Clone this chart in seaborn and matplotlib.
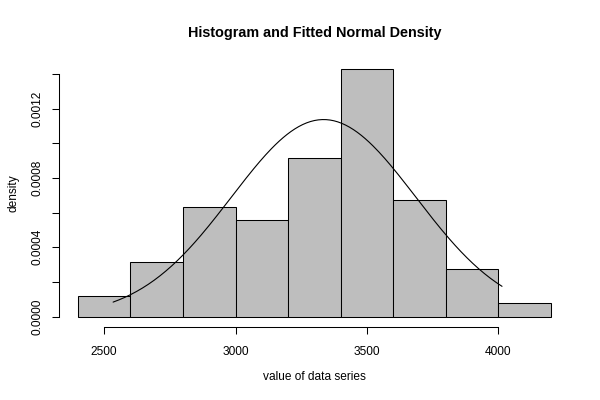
import numpy as np
import pandas as pd
import matplotlib
matplotlib.use("Agg")
import matplotlib.pyplot as plt
import seaborn as sns

# --- Data ---
bin_edges = [2400, 2600, 2800, 3000, 3200, 3400, 3600, 3800, 4000, 4200]
bin_counts = [3, 8, 16, 14, 23, 36, 17, 7, 2]
fit_mean = 3335.0
fit_sd = 351.0
data_min = 2534.0
data_max = 4014.0
x_ticks = [2500, 3000, 3500, 4000]
y_ticks = [0.0, 0.0002, 0.0004, 0.0006, 0.0008, 0.0010, 0.0012, 0.0014]
y_ticklabels = ["0.0000", "", "0.0004", "", "0.0008", "", "0.0012", ""]

sns.set_style("white", {"text.color": "black", "axes.labelcolor": "black",
                        "xtick.color": "black", "ytick.color": "black"})
plt.rcParams["font.family"] = ["Liberation Sans", "DejaVu Sans"]

mids = [(a + b) / 2 for a, b in zip(bin_edges[:-1], bin_edges[1:])]
hist_df = pd.DataFrame({"value": mids, "count": bin_counts})

# fitted normal density over the data range
xs = np.linspace(data_min, data_max, 200)
ys = np.exp(-0.5 * ((xs - fit_mean) / fit_sd) ** 2) / (fit_sd * np.sqrt(2 * np.pi))
curve_df = pd.DataFrame({"x": xs, "y": ys})

fig = plt.figure(figsize=(6, 4), dpi=100)
ax = fig.add_axes([0.0983, 0.1835, 0.8514, 0.669])

sns.histplot(data=hist_df, x="value", weights="count", bins=bin_edges, stat="density",
             color="#BEBEBE", edgecolor="black", linewidth=0.75, alpha=1, ax=ax)
sns.lineplot(data=curve_df, x="x", y="y", color="black", linewidth=0.8, ax=ax)

# R-style plot region with 4% padding
xr = bin_edges[-1] - bin_edges[0]
ax.set_xlim(bin_edges[0] - 0.04 * xr, bin_edges[-1] + 0.04 * xr)
ytop = max(bin_counts) / (sum(bin_counts) * (bin_edges[1] - bin_edges[0]))
ax.set_ylim(-0.04 * ytop, ytop * 1.04)

for s in ["top", "right"]:
    ax.spines[s].set_visible(False)
for s in ["left", "bottom"]:
    ax.spines[s].set_color("black")
    ax.spines[s].set_linewidth(0.75)
ax.spines["left"].set_bounds(y_ticks[0], y_ticks[-1])
ax.spines["bottom"].set_bounds(x_ticks[0], x_ticks[-1])

ax.set_xticks(x_ticks)
ax.set_yticks(y_ticks)
ax.set_yticklabels(y_ticklabels, rotation=90, va="center")
ax.tick_params(axis="both", which="both", direction="out", length=5.2, width=0.75,
               color="black", labelcolor="black", labelsize=8.6, left=True, bottom=True)
ax.tick_params(axis="x", pad=9)
ax.tick_params(axis="y", pad=6)

ax.set_xlabel("value of data series", fontsize=8.6, labelpad=9, color="black")
ax.set_ylabel("density", fontsize=8.6, labelpad=8.5, color="black")
ax.set_title("Histogram and Fitted Normal Density", fontsize=10.4, fontweight="bold",
             pad=16, color="black")

plt.savefig("out.png", dpi=100)
plt.close()
